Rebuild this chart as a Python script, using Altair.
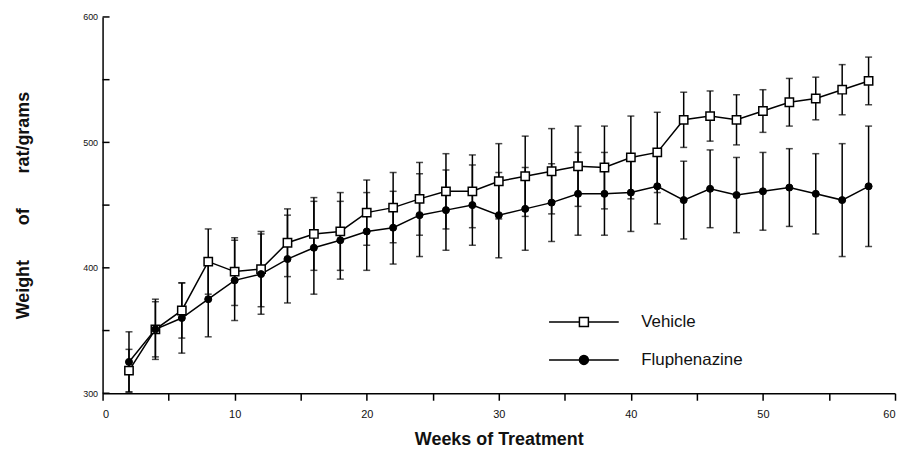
import altair as alt
import pandas as pd

weeks = [2, 4, 6, 8, 10, 12, 14, 16, 18, 20, 22, 24, 26, 28, 30,
         32, 34, 36, 38, 40, 42, 44, 46, 48, 50, 52, 54, 56, 58]
vehicle_mean = [318, 351, 366, 405, 397, 399, 420, 427, 429, 444, 448, 455, 461, 461, 469,
                473, 477, 481, 480, 488, 492, 518, 521, 518, 525, 532, 535, 542, 549]
vehicle_err = [17, 22, 22, 26, 27, 30, 27, 29, 31, 26, 28, 29, 30, 29, 30,
               32, 34, 32, 33, 33, 32, 22, 20, 20, 17, 19, 17, 20, 19]
fluph_mean = [325, 351, 360, 375, 390, 395, 407, 416, 422, 429, 432, 442, 446, 450, 442,
              447, 452, 459, 459, 460, 465, 454, 463, 458, 461, 464, 459, 454, 465]
fluph_err = [24, 24, 28, 30, 32, 32, 35, 37, 31, 31, 29, 33, 32, 32, 34,
             33, 31, 33, 33, 31, 30, 31, 31, 30, 31, 31, 32, 45, 48]
series_names = ["Vehicle", "Fluphenazine"]
x_tick_vals = list(range(0, 61, 5))
y_tick_vals = list(range(300, 601, 50))

rows = []
for w, m, e in zip(weeks, vehicle_mean, vehicle_err):
    rows.append({"week": w, "weight": m, "lo": m - e, "hi": m + e, "series": "Vehicle"})
for w, m, e in zip(weeks, fluph_mean, fluph_err):
    rows.append({"week": w, "weight": m, "lo": m - e, "hi": m + e, "series": "Fluphenazine"})
df = pd.DataFrame(rows)
ticks_df = pd.DataFrame({"v": y_tick_vals})

FONT = "Liberation Sans"
xscale = alt.Scale(domain=[0, 60], nice=False, zero=False)
yscale = alt.Scale(domain=[300, 600], nice=False, zero=False)

x_axis = alt.Axis(title="Weeks of Treatment", values=x_tick_vals,
                  labelExpr="datum.value % 10 == 0 ? datum.label : ''",
                  grid=False, tickSize=7, labelPadding=8,
                  labelFontSize=11, labelFont=FONT, labelColor="#111",
                  titleFontSize=18, titleFont=FONT, titleFontWeight="bold",
                  titlePadding=11, titleColor="#111",
                  domainColor="black", tickColor="black",
                  domainWidth=1.5, tickWidth=1.5)
gap = "\u00a0" * 7
y_axis = alt.Axis(title="Weight" + gap + "of" + gap + "rat/grams",
                  values=[300, 400, 500, 600], ticks=False,
                  grid=False, labelPadding=5,
                  labelFontSize=9, labelFont=FONT, labelColor="#111",
                  titleFontSize=18, titleFont=FONT, titleFontWeight="bold",
                  titlePadding=50, titleColor="#111",
                  domainColor="black", domainWidth=1.5)

x_enc = alt.X("week:Q", scale=xscale, axis=x_axis)
y_enc = alt.Y("weight:Q", scale=yscale, axis=y_axis)

base = alt.Chart(df)

lines = base.mark_line(color="black", strokeWidth=1.5).encode(
    x=x_enc, y=y_enc, detail="series:N")

errbars = base.mark_errorbar(ticks={"size": 7, "thickness": 1.5},
                             rule={"strokeWidth": 1.5}, color="black").encode(
    x=alt.X("week:Q", scale=xscale, axis=x_axis),
    y=alt.Y("lo:Q", scale=yscale, axis=y_axis),
    y2="hi:Q",
)

veh_pts = base.transform_filter(alt.datum.series == "Vehicle").mark_point(
    shape="square", filled=True, fill="white", stroke="black",
    strokeWidth=1.5, size=70, opacity=1).encode(x=x_enc, y=y_enc)

flu_pts = base.transform_filter(alt.datum.series == "Fluphenazine").mark_point(
    shape="circle", filled=True, fill="black", stroke="black",
    strokeWidth=1, size=50, opacity=1).encode(x=x_enc, y=y_enc)

vehicle_sym = "M-7,0H-0.9M0.9,0H7M-0.9,-0.9H0.9V0.9H-0.9Z"
fluph_sym = "M-7,0H-0.9M0.9,0H7M0.9,0A0.9,0.9,0,1,1,-0.9,0A0.9,0.9,0,1,1,0.9,0Z"

legend_layer = base.mark_point(filled=True, opacity=0).encode(
    x=x_enc, y=y_enc,
    shape=alt.Shape("series:N",
                    scale=alt.Scale(domain=series_names, range=[vehicle_sym, fluph_sym]),
                    legend=alt.Legend(title=None, orient="none", legendX=475, legendY=298,
                                      padding=0, symbolSize=100, symbolOpacity=1,
                                      symbolStrokeColor="black", symbolStrokeWidth=1.5,
                                      labelOffset=49, labelFontSize=17, labelFont=FONT,
                                      labelColor="#111", rowPadding=20)),
    fill=alt.Fill("series:N",
                  scale=alt.Scale(domain=series_names, range=["white", "black"])),
    stroke=alt.Stroke("series:N",
                      scale=alt.Scale(domain=series_names, range=["black", "black"])),
)

yticks = alt.Chart(ticks_df).mark_rule(color="black", strokeWidth=1.5).encode(
    y=alt.Y("v:Q", scale=yscale, axis=y_axis), x=alt.value(0), x2=alt.value(7))

chart = alt.layer(lines, errbars, legend_layer, veh_pts, flu_pts, yticks).properties(
    width=796, height=378,
    autosize=alt.AutoSizeParams(type="none"),
    padding={"left": 95, "top": 8, "right": 2, "bottom": 58},
    background="white",
).configure_view(stroke=None)

chart.save("out.html", embed_options={"renderer": "svg", "actions": False})
